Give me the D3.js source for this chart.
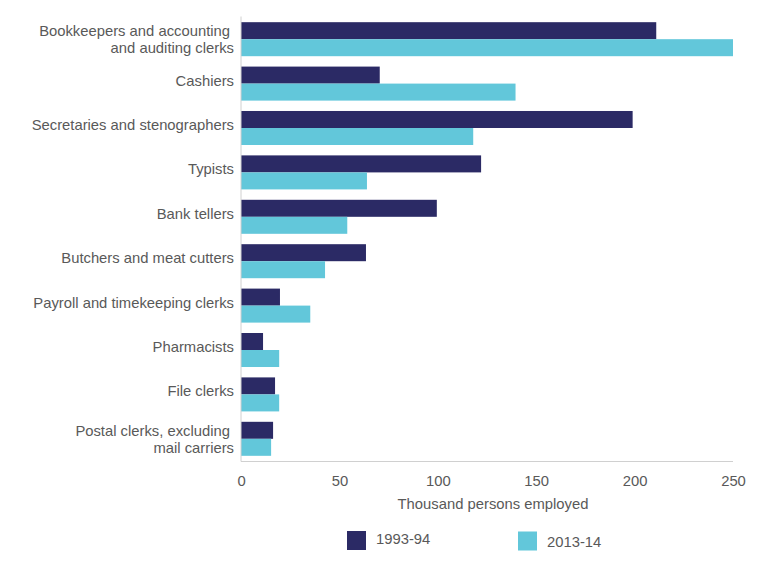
<!DOCTYPE html>
<html>
<head>
<meta charset="utf-8">
<script src="https://cdn.jsdelivr.net/npm/d3@7"></script>
<style>
  html, body { margin: 0; padding: 0; background: #fff; }
  svg { display: block; font-family: "Liberation Sans", Arial, sans-serif; }
</style>
</head>
<body>
<svg id="chart" width="770" height="565"></svg>
<script>
const categories = [
  ["Bookkeepers and accounting", "and auditing clerks"],
  ["Cashiers"],
  ["Secretaries and stenographers"],
  ["Typists"],
  ["Bank tellers"],
  ["Butchers and meat cutters"],
  ["Payroll and timekeeping clerks"],
  ["Pharmacists"],
  ["File clerks"],
  ["Postal clerks, excluding", "mail carriers"]
];
const seriesNames = ["1993-94", "2013-14"];
const values1993 = [211, 70.5, 199, 122, 99.5, 63.5, 19.8, 11.2, 17.3, 16.3];
const values2013 = [250, 139.5, 118, 64, 54, 42.7, 35.2, 19.4, 19.4, 15.3];
const xTicks = [0, 50, 100, 150, 200, 250];
const axisTitle = "Thousand persons employed";

const colors = ["#2b2a65", "#62c7da"];
const textColor = "#595959";
const fontSize = "14.8px";

const svg = d3.select("#chart");
const plotLeft = 241, plotRight = 733, plotTop = 16.5, plotBottom = 461.5;

const x = d3.scaleLinear().domain([0, 250]).range([plotLeft, plotRight]);
const y = d3.scaleBand()
  .domain(d3.range(categories.length))
  .range([plotTop, plotBottom])
  .paddingInner(0.234)
  .paddingOuter(0.128);
const sub = d3.scaleBand().domain([0, 1]).range([0, y.bandwidth()]);

const series = [values1993, values2013];

// bars
series.forEach((vals, si) => {
  svg.append("g").selectAll("rect")
    .data(vals)
    .join("rect")
    .attr("x", x(0))
    .attr("y", (d, i) => y(i) + sub(si))
    .attr("width", d => x(d) - x(0))
    .attr("height", sub.bandwidth())
    .attr("fill", colors[si]);
});

// axes lines
svg.append("line")
  .attr("x1", x(0)).attr("x2", x(0))
  .attr("y1", plotTop).attr("y2", plotBottom)
  .attr("stroke", "#d0d0d0").attr("stroke-width", 1);
svg.append("line")
  .attr("x1", x(0)).attr("x2", x(250))
  .attr("y1", plotBottom).attr("y2", plotBottom)
  .attr("stroke", "#d0d0d0").attr("stroke-width", 1);

// x axis tick labels
const xAxis = d3.axisBottom(x).tickValues(xTicks).tickSize(0).tickPadding(0);
const gx = svg.append("g").attr("transform", `translate(0,${plotBottom})`).call(xAxis);
gx.select(".domain").remove();
gx.selectAll("text")
  .attr("y", 24.5)
  .attr("dy", 0)
  .attr("fill", textColor)
  .style("font-size", fontSize)
  .style("font-family", "Liberation Sans, Arial, sans-serif");

// axis title
svg.append("text")
  .attr("x", 493).attr("y", 508.5)
  .attr("text-anchor", "middle")
  .attr("fill", textColor)
  .style("font-size", fontSize)
  .text(axisTitle);

// category labels
categories.forEach((lines, i) => {
  const t = svg.append("text")
    .attr("text-anchor", "end")
    .attr("fill", textColor)
    .style("font-size", fontSize);
  if (lines.length === 1) {
    t.append("tspan")
      .attr("x", 234)
      .attr("y", y(i) + y.bandwidth() / 2 + 2)
      .text(lines[0]);
  } else {
    lines.forEach((ln, k) => {
      t.append("tspan")
        .attr("x", k === 0 ? 230 : 234)
        .attr("y", y(i) + sub(k) + sub.bandwidth() / 2 + 5.5)
        .text(ln);
    });
  }
});

// legend
const legendItems = [
  { name: seriesNames[0], color: colors[0], x: 347, y: 531, ty: 544 },
  { name: seriesNames[1], color: colors[1], x: 518, y: 531.5, ty: 547 }
];
legendItems.forEach(d => {
  svg.append("rect")
    .attr("x", d.x).attr("y", d.y)
    .attr("width", 19).attr("height", 19)
    .attr("fill", d.color);
  svg.append("text")
    .attr("x", d.x + 29).attr("y", d.ty)
    .attr("fill", textColor)
    .style("font-size", fontSize)
    .text(d.name);
});
</script>
</body>
</html>
